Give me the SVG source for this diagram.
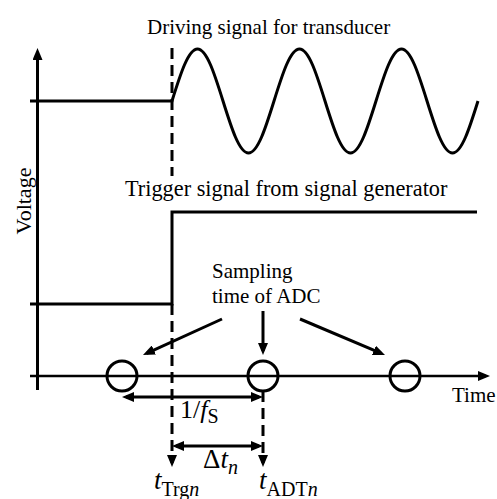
<svg xmlns="http://www.w3.org/2000/svg" width="497" height="499" viewBox="0 0 497 499" font-family="'Liberation Serif', 'DejaVu Serif', serif">
<style>
text{font-family:'Liberation Serif','Times New Roman','DejaVu Serif',serif;font-size:21px;fill:#000}
.ln{stroke:#000;stroke-width:3;fill:none}
.dash{stroke:#000;stroke-width:3;fill:none;stroke-dasharray:11 6}
.ax{stroke:#000;stroke-width:2.5;fill:none}
.f{font-size:26px}
.m{font-size:27px}
.sub{font-size:20px}
.sub2{font-size:20px}
.it{font-style:italic}
</style>
<defs>
<marker id="ah" viewBox="0 0 12 10" refX="8" refY="5" markerWidth="12" markerHeight="10" markerUnits="userSpaceOnUse" orient="auto-start-reverse">
<path d="M0,0 L12,5 L0,10 Z" fill="#000"/>
</marker>
</defs>
<rect width="497" height="499" fill="#fff"/>
<g id="axes">
<line class="ln" x1="37.5" y1="390" x2="37.5" y2="52" marker-end="url(#ah)"/>
<line class="ax" x1="30" y1="376" x2="486" y2="376" marker-end="url(#ah)"/>
<text transform="translate(31,201) rotate(-90)" text-anchor="middle" style="font-size:22px">Voltage</text>
<text x="452" y="402">Time</text>
</g>
<g id="driving-signal">
<path class="ln" d="M30,101 H172 c8.316,-26.64 16.272,-52 25.5,-52 c9.228,0 17.184,25.36 25.5,52 c8.316,26.64 16.272,52 25.5,52 c9.228,0 17.184,-25.36 25.5,-52 c8.316,-26.64 16.272,-52 25.5,-52 c9.228,0 17.184,25.36 25.5,52 c8.316,26.64 16.272,52 25.5,52 c9.228,0 17.184,-25.36 25.5,-52 c8.316,-26.64 16.272,-52 25.5,-52 c9.228,0 17.184,25.36 25.5,52 c8.316,26.64 16.272,52 25.5,52 c9.228,0 17.184,-25.36 25.5,-52"/>
<text x="147" y="34">Driving signal for transducer</text>
</g>
<g id="trigger-signal">
<path class="ln" d="M30,304 H172 V212 H477"/>
<text x="125" y="196" style="font-size:22.3px">Trigger signal from signal generator</text>
</g>
<g id="connectors">
<line class="dash" x1="172" y1="48" x2="172" y2="176"/>
<line class="dash" x1="172" y1="304" x2="172" y2="463" marker-end="url(#ah)"/>
<line class="dash" x1="263" y1="391" x2="263" y2="463" marker-end="url(#ah)"/>
<line class="ln" x1="222" y1="319" x2="146.6" y2="353.3" marker-end="url(#ah)"/>
<line class="ln" x1="263" y1="311" x2="263" y2="351" marker-end="url(#ah)"/>
<line class="ln" x1="300" y1="319" x2="381.3" y2="353.4" marker-end="url(#ah)"/>
<line class="ln" x1="126" y1="397" x2="259" y2="397" marker-start="url(#ah)" marker-end="url(#ah)"/>
<line class="ln" x1="176" y1="446" x2="259" y2="446" marker-start="url(#ah)" marker-end="url(#ah)"/>
</g>
<g id="samples">
<circle class="ln" cx="122" cy="376" r="15" fill="#fff"/>
<circle class="ln" cx="263" cy="376" r="15" fill="#fff"/>
<circle class="ln" cx="405" cy="376" r="15" fill="#fff"/>
</g>
<g id="sampling-label">
<text x="212" y="278">Sampling</text>
<text x="212" y="303">time of ADC</text>
</g>
<g id="labels">
<text class="f" x="180" y="418">1/<tspan class="it">f</tspan><tspan class="sub" dy="5">S</tspan></text>
<text class="m" x="203" y="468">Δ<tspan class="it">t</tspan><tspan class="sub it" dy="6">n</tspan></text>
<text class="m" x="154" y="489"><tspan class="it">t</tspan><tspan class="sub2" dy="7">Trg<tspan class="it">n</tspan></tspan></text>
<text class="m" x="259" y="489"><tspan class="it">t</tspan><tspan class="sub2" dy="7">ADT<tspan class="it">n</tspan></tspan></text>
</g>
</svg>
